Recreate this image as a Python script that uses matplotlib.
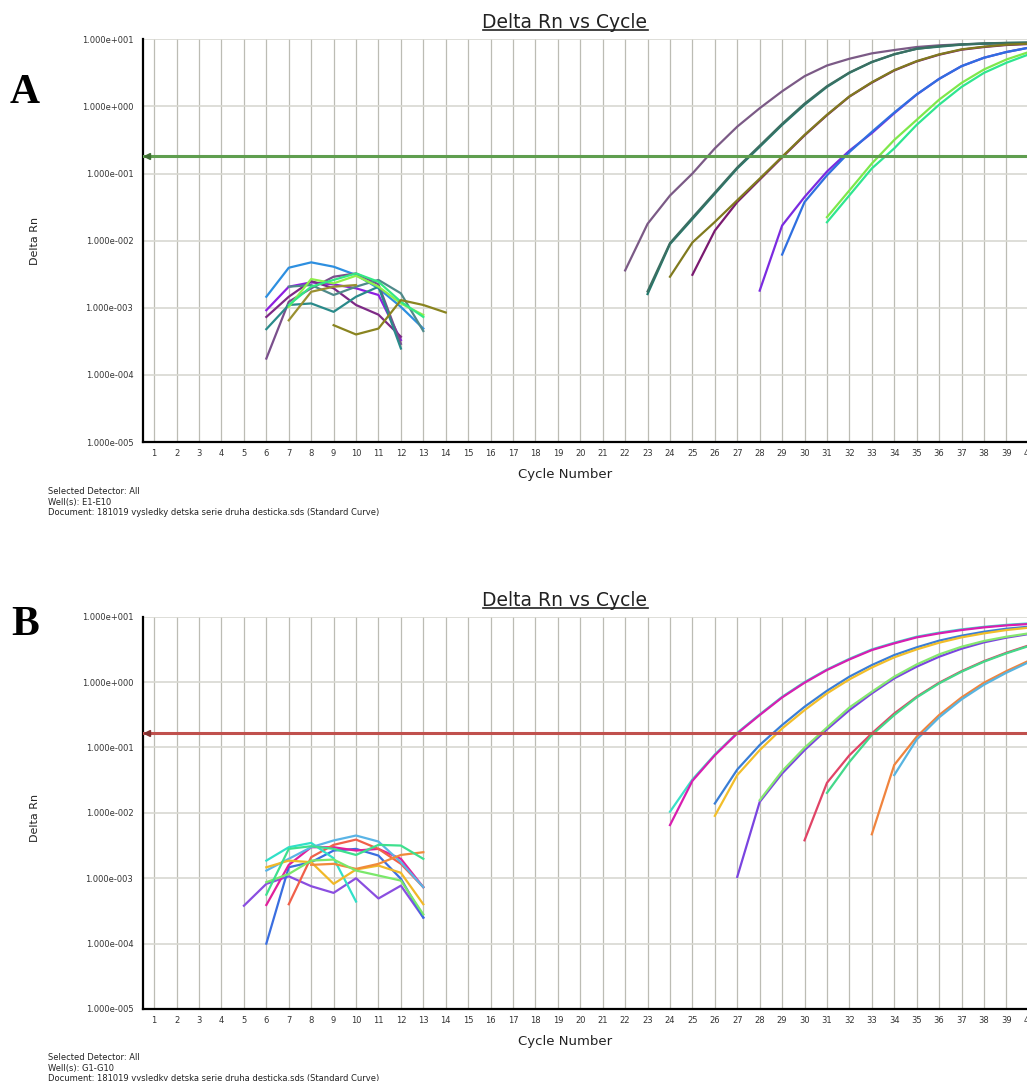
import matplotlib
matplotlib.use("Agg")
import matplotlib.pyplot as plt
from matplotlib.lines import Line2D
from matplotlib.ticker import FixedLocator, NullLocator, FuncFormatter
import numpy as np

# Panneau A : puits E1-E10, chaque courbe = (premier cycle, valeurs Delta Rn)
a_bruit_debut = [6, 6, 6, 6, 6, 7, 7, 7, 7, 9]
a_bruit_valeurs = [
    [1.46e-3, 3.95e-3, 4.75e-3, 4.09e-3, 3.08e-3, 1.95e-3, 1.03e-3, 4.9e-4],
    [9.2e-4, 2.06e-3, 2.39e-3, 2.23e-3, 1.95e-3, 1.55e-3, 3.3e-4],
    [7.3e-4, 1.46e-3, 2.5e-3, 1.95e-3, 1.1e-3, 7.9e-4, 3.7e-4],
    [1.75e-4, 1.23e-3, 1.95e-3, 2.9e-3, 3.25e-3, 2.23e-3, 2.9e-4],
    [4.8e-4, 1.1e-3, 1.16e-3, 8.7e-4, 1.46e-3, 2.06e-3, 2.47e-4],
    [2.06e-3, 2.18e-3, 1.55e-3, 2.06e-3, 2.6e-3, 1.64e-3, 4.5e-4],
    [1.03e-3, 2.68e-3, 2.31e-3, 3.0e-3, 2.06e-3, 1.16e-3, 7.8e-4],
    [1.1e-3, 2.06e-3, 2.6e-3, 3.25e-3, 2.44e-3, 1.23e-3, 7.3e-4],
    [6.5e-4, 1.73e-3, 2.06e-3, 2.18e-3],
    [5.5e-4, 4.0e-4, 4.9e-4, 1.3e-3, 1.1e-3, 8.5e-4],
]
a_bruit_couleurs = ["#2d8fe0", "#8e1ee0", "#7d2a86", "#7a4f8c", "#2a8a8a",
                    "#4f8a8a", "#8ef04a", "#33e884", "#9a9030", "#8a8420"]

a_ampli_debut = [22, 25, 23, 23, 24, 28, 29, 31, 31]
a_ampli_valeurs = [
    [3.6e-3, 1.78e-2, 4.7e-2, 0.10, 0.237, 0.50, 0.94, 1.68, 2.82, 4.07,
     5.13, 6.17, 6.92, 7.67, 8.13, 8.41, 8.61, 8.71, 8.81],
    [3.1e-3, 1.41e-2, 3.76e-2, 8.1e-2, 0.174, 0.37, 0.74, 1.40, 2.26, 3.43,
     4.68, 5.89, 7.0, 7.67, 8.22, 8.51],
    [1.6e-3, 8.9e-3, 2.1e-2, 5.0e-2, 0.119, 0.25, 0.53, 1.06, 1.95, 3.16,
     4.57, 5.96, 7.24, 7.76, 8.32, 8.61, 8.81, 8.91],
    [1.75e-3, 9.2e-3, 2.2e-2, 5.2e-2, 0.123, 0.26, 0.55, 1.1, 2.0, 3.2,
     4.6, 6.0, 7.2, 7.9, 8.4, 8.7, 8.85, 8.95],
    [2.9e-3, 9.4e-3, 1.9e-2, 4.0e-2, 8.4e-2, 0.178, 0.376, 0.75, 1.41, 2.29,
     3.47, 4.73, 5.96, 7.08, 7.76, 8.32, 8.61],
    [1.8e-3, 1.68e-2, 4.47e-2, 0.107, 0.219, 0.4, 0.79, 1.5, 2.57, 3.98,
     5.31, 6.46, 7.5],
    [6.2e-3, 3.76e-2, 9.4e-2, 0.209, 0.417, 0.81, 1.51, 2.57, 3.98, 5.31,
     6.46, 7.5],
    [2.24e-2, 5.6e-2, 0.141, 0.316, 0.63, 1.26, 2.24, 3.55, 5.0, 6.46],
    [1.88e-2, 4.73e-2, 0.119, 0.237, 0.531, 1.06, 1.95, 3.16, 4.47, 5.96],
]
a_ampli_couleurs = ["#7b5a86", "#7a1a70", "#1f7a6e", "#3b6f62", "#807a1e",
                    "#7b2be0", "#2f6fe0", "#7ee84a", "#2ee690"]
a_seuil = 0.18

# Panneau B : puits G1-G10
b_bruit_debut = [5, 6, 6, 7, 6, 6, 6, 8, 6, 6]
b_bruit_valeurs = [
    [3.8e-4, 8.2e-4, 1.07e-3, 7.55e-4, 5.97e-4, 1.0e-3, 4.9e-4, 7.7e-4, 2.5e-4],
    [1.0e-4, 1.47e-3, 1.76e-3, 2.65e-3, 2.81e-3, 2.22e-3, 9.8e-4, 2.5e-4],
    [3.9e-4, 1.6e-3, 2.98e-3, 2.98e-3, 2.65e-3, 2.81e-3, 1.98e-3, 7.3e-4],
    [4.0e-4, 2.1e-3, 3.24e-3, 3.9e-3, 2.81e-3, 1.66e-3, 7.3e-4],
    [1.86e-3, 2.98e-3, 3.47e-3, 2.02e-3, 4.4e-4],
    [1.31e-3, 1.98e-3, 2.98e-3, 3.78e-3, 4.5e-3, 3.64e-3, 1.76e-3, 7.3e-4],
    [1.47e-3, 1.86e-3, 1.76e-3, 8.2e-4, 1.36e-3, 1.56e-3, 1.21e-3, 4.0e-4],
    [1.6e-3, 1.66e-3, 1.39e-3, 1.66e-3, 2.27e-3, 2.5e-3],
    [8.7e-4, 1.16e-3, 1.86e-3, 1.93e-3, 1.31e-3, 1.1e-3, 9.2e-4, 2.8e-4],
    [5.6e-4, 2.81e-3, 3.09e-3, 2.81e-3, 2.27e-3, 3.24e-3, 3.16e-3, 1.98e-3],
]
b_bruit_couleurs = ["#8a4ee0", "#3a6ee0", "#e0209c", "#f0604a", "#30e0c8",
                    "#5ab4e6", "#f0b828", "#f08a3a", "#7ae86a", "#3ee08e"]

b_ampli_debut = [24, 24, 26, 26, 27, 28, 30, 31, 33, 34]
b_ampli_valeurs = [
    [1.04e-2, 3.24e-2, 7.8e-2, 0.168, 0.32, 0.595, 1.0, 1.56, 2.27, 3.16,
     4.0, 4.94, 5.7, 6.4, 7.0, 7.5, 7.9],
    [6.5e-3, 3.09e-2, 7.6e-2, 0.164, 0.313, 0.582, 0.977, 1.53, 2.22, 3.09,
     3.91, 4.83, 5.56, 6.25, 6.87, 7.36, 7.73],
    [1.39e-2, 4.6e-2, 0.109, 0.22, 0.419, 0.736, 1.21, 1.82, 2.59, 3.4,
     4.3, 5.12, 5.89, 6.55, 7.03],
    [9.0e-3, 3.78e-2, 9.1e-2, 0.195, 0.372, 0.671, 1.1, 1.67, 2.39, 3.16,
     4.0, 4.83, 5.56, 6.25, 6.79],
    [1.05e-3, 1.47e-2, 4.0e-2, 9.1e-2, 0.189, 0.372, 0.671, 1.14, 1.72, 2.44,
     3.24, 4.05, 4.78, 5.43],
    [1.56e-2, 4.35e-2, 9.9e-2, 0.202, 0.409, 0.711, 1.21, 1.86, 2.65, 3.47,
     4.25, 4.94, 5.56],
    [3.8e-3, 2.88e-2, 7.6e-2, 0.164, 0.331, 0.597, 0.977, 1.47, 2.09, 2.81, 3.64],
    [2.02e-2, 6.0e-2, 0.155, 0.313, 0.582, 0.955, 1.44, 2.05, 2.75, 3.56],
    [4.7e-3, 5.4e-2, 0.146, 0.313, 0.582, 0.977, 1.47, 2.12],
    [3.78e-2, 0.132, 0.288, 0.543, 0.91, 1.39, 2.02],
]
b_ampli_couleurs = ["#3ae0c8", "#d81eb0", "#3a7ed6", "#f2be2a", "#7a44e0",
                    "#86e870", "#e04466", "#44d88a", "#f0843e", "#58b4e0"]
b_seuil = 0.165

cycles = list(range(1, 41))
decades = [1e-5, 1e-4, 1e-3, 1e-2, 1e-1, 1e0, 1e1]

W, H = 1027, 1081
fig = plt.figure(figsize=(W / 100, H / 100), dpi=100)
fig.patch.set_facecolor("white")


def etiquette_y(v, pos):
    e = int(round(np.log10(v)))
    return "1.000e%+04d" % e


def panneau(haut, bas, debuts, valeurs, couleurs, seuil, c_seuil, c_fleche):
    ax = fig.add_axes([143 / W, 1 - bas / H, (1040 - 143) / W, (bas - haut) / H])
    ax.set_yscale("log")
    ax.set_xlim(0.5, 40.5)
    ax.set_ylim(1e-5, 1e1)
    # grille verticale (chaque cycle) et horizontale (chaque decade)
    for c in cycles:
        ax.axvline(c, color="#bcbcb4", lw=0.9, zorder=0)
    for d in decades:
        ax.axhline(d, color="#d8d8d2", lw=1.2, zorder=0)
    # courbes
    for deb, val, coul in zip(debuts, valeurs, couleurs):
        x = np.arange(deb, deb + len(val))
        ax.plot(x, val, color=coul, lw=1.6, zorder=3)
    # ligne de seuil
    ax.axhline(seuil, color=c_seuil, lw=2.2, zorder=4)
    ax.plot(0.68, seuil, marker="<", ms=4, color=c_fleche, zorder=5, clip_on=False)

    ax.yaxis.set_major_locator(FixedLocator(decades))
    ax.yaxis.set_minor_locator(NullLocator())
    ax.yaxis.set_major_formatter(FuncFormatter(etiquette_y))
    ax.xaxis.set_major_locator(FixedLocator(cycles))
    ax.tick_params(axis="both", length=0, labelsize=6, colors="#333333")
    ax.tick_params(axis="y", pad=7)
    ax.tick_params(axis="x", pad=5)
    for s in ["top", "right"]:
        ax.spines[s].set_visible(False)
    for s in ["left", "bottom"]:
        ax.spines[s].set_linewidth(1.6)
        ax.spines[s].set_color("black")
    return ax


panneau(39.3, 442, a_bruit_debut + a_ampli_debut, a_bruit_valeurs + a_ampli_valeurs,
        a_bruit_couleurs + a_ampli_couleurs, a_seuil, "#5f9e4f", "#3f6e33")
panneau(616.7, 1009, b_bruit_debut + b_ampli_debut, b_bruit_valeurs + b_ampli_valeurs,
        b_bruit_couleurs + b_ampli_couleurs, b_seuil, "#c0504d", "#803030")


def px(x, y):
    return x / W, 1 - y / H


# textes autour des graphes
titres = []
for y in [27.5, 605.5]:
    t = fig.text(*px(565, y), "Delta Rn vs Cycle", ha="center", va="baseline",
                 fontsize=13.5, color="#222222")
    titres.append((t, y))
for y in [241, 818]:
    fig.text(*px(35, y), "Delta Rn", rotation=90, ha="center", va="center",
             fontsize=8, color="#222222")
for y in [475, 1041]:
    fig.text(*px(565, y), "Cycle Number", ha="center", va="center",
             fontsize=9.5, color="#222222")

notes = [
    (492, ["Selected Detector: All", "Well(s): E1-E10",
           "Document: 181019 vysledky detska serie druha desticka.sds (Standard Curve)"]),
    (1058, ["Selected Detector: All", "Well(s): G1-G10",
            "Document: 181019 vysledky detska serie druha desticka.sds (Standard Curve)"]),
]
for y0, lignes in notes:
    for i, l in enumerate(lignes):
        fig.text(*px(48, y0 + i * 10.3), l, ha="left", va="center",
                 fontsize=6, color="#222222")

fig.text(*px(25, 93), "A", ha="center", va="center", fontsize=30,
         fontweight="bold", family="Liberation Serif")
fig.text(*px(25, 625), "B", ha="center", va="center", fontsize=30,
         fontweight="bold", family="Liberation Serif")

# soulignement des titres
fig.canvas.draw()
r = fig.canvas.get_renderer()
for t, y in titres:
    bb = t.get_window_extent(renderer=r)
    yl = 1 - (y + 2.5) / H
    fig.add_artist(Line2D([bb.x0 / W, bb.x1 / W], [yl, yl], color="#222222", lw=1.2))

fig.savefig("out.png", dpi=100, facecolor="white")
